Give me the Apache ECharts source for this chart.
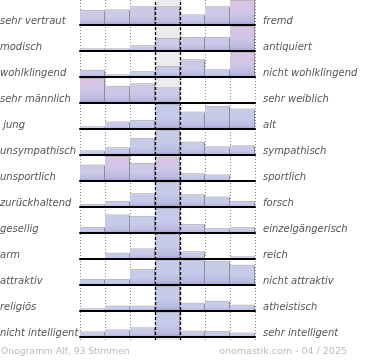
<!DOCTYPE html>
<html>
<head>
<meta charset="utf-8">
<script src="https://cdn.jsdelivr.net/npm/echarts@6/dist/echarts.min.js"></script>
<style>html,body{margin:0;padding:0;background:#fff;}#c{width:370px;height:360px;}</style>
</head>
<body>
<div id="c"></div>
<script>
// ---- data ----
const leftLabels = ['sehr vertraut','modisch','wohlklingend','sehr männlich',' jung','unsympathisch','unsportlich','zurückhaltend','gesellig','arm','attraktiv','religiös','nicht intelligent'];
const rightLabels = ['fremd','antiquiert','nicht wohlklingend','sehr weiblich','alt','sympathisch','sportlich','forsch','einzelgängerisch','reich','nicht attraktiv','atheistisch','sehr intelligent'];
const scale = [1,2,3,4,5,6,7];
const row1 = [58,61,74,74,40,74,100];
const row2 = [7,7,20,50,54,54,100];
const row3 = [25,7,20,42,70,28,100];
const row4 = [100,67,78,61,0,0,0];
const row5 = [7,27,33,100,68,92,81];
const row6 = [15,28,67,100,51,32,36];
const row7 = [64,100,71,97,28,23,0];
const row8 = [8,21,53,100,49,39,21];
const row9 = [21,73,67,100,33,16,20];
const row10 = [0,22,40,100,28,0,7];
const row11 = [21,21,62,100,100,97,80];
const row12 = [7,18,18,100,30,38,22];
const row13 = [19,27,36,100,22,21,14];
const rows = [row1,row2,row3,row4,row5,row6,row7,row8,row9,row10,row11,row12,row13];
const footerLeft = 'Onogramm Alf, 93 Stimmen';
const footerRight = 'onomastik.com - 04 / 2025';

// ---- style (pink tint of bar tops) ----
const tint = [
  [0.3,0.3,0.6,0.6,0,0.5,1],
  [0,0,0,0.2,0.2,0.2,1],
  [0,0,0,0.1,0.4,0,1],
  [1,0.5,0.6,0.3,0,0,0],
  [0,0,0,0,0,0,0],[0,0,0,0,0,0,0],
  [0.4,1,0.5,1,0,0,0],
  [0,0,0,0,0,0,0],[0,0,0,0,0,0,0],[0,0,0,0,0,0,0],
  [0,0,0,0,0,0,0],[0,0,0,0,0,0,0],[0,0,0,0,0,0,0]
];

function mix(a,b,t){
  const pa=[parseInt(a.substr(1,2),16),parseInt(a.substr(3,2),16),parseInt(a.substr(5,2),16)];
  const pb=[parseInt(b.substr(1,2),16),parseInt(b.substr(3,2),16),parseInt(b.substr(5,2),16)];
  return 'rgb('+pa.map((v,i)=>Math.round(v+(pb[i]-v)*t)).join(',')+')';
}

const chart = echarts.init(document.getElementById('c'), null, {renderer:'canvas'});
const L = 80, W = 175, ROWH = 26, BARH = 24, TOP = 1;

const grids = [], xAxes = [], yAxes = [], series = [], graphics = [];
rows.forEach((vals, i) => {
  grids.push({left: L, width: W, top: TOP + ROWH*i, height: BARH});
  xAxes.push({type:'category', gridIndex:i, data: scale, boundaryGap:true,
    axisLine:{show:true, lineStyle:{color:'#000', width:2}}, axisTick:{show:false}, axisLabel:{show:false}, splitLine:{show:false}, z:5});
  yAxes.push({type:'value', gridIndex:i, min:0, max:100, show:false, splitLine:{show:false}});
  series.push({
    type:'custom', xAxisIndex:i, yAxisIndex:i, z:3,
    data: vals.map((v,j)=>[j,v]),
    renderItem: function(params, api){
      const j = api.value(0), v = api.value(1);
      if (!v) return null;
      const top = api.coord([j, v]);
      const base = api.coord([j, 0]);
      const w = api.size([1,0])[0];
      const x0 = top[0] - w/2, x1 = top[0] + w/2;
      const h = base[1] - top[1];
      const t = tint[i][j];
      const topCol = mix('#c6cbe9', '#dcc3e4', t);
      const midCol = mix('#c6cbe9', '#d3c3e5', t*0.6);
      return {type:'group', children:[
        {type:'rect', shape:{x:x0, y:top[1], width:w, height:h},
          style:{fill:new echarts.graphic.LinearGradient(0,0,0,1,[
            {offset:0,color:topCol},{offset:0.5,color:midCol},{offset:0.85,color:'#b9b9e0'},{offset:1,color:'#a49dd0'}])}},
        {type:'line', shape:{x1:x0, y1:top[1]-0.5, x2:x1, y2:top[1]-0.5}, style:{stroke:'#b8b8c4', lineWidth:1}},
        {type:'line', shape:{x1:x1-0.5, y1:top[1], x2:x1-0.5, y2:base[1]}, style:{stroke:'#8e8e8e', lineWidth:1}}
      ]};
    }
  });
  const cy = TOP + ROWH*i + BARH - 6;
  graphics.push({type:'text', left:0, top: cy-3, style:{text:leftLabels[i], fill:'#555', font:'italic 10px "DejaVu Sans"'}});
  graphics.push({type:'text', left:263, top: cy-3, style:{text:rightLabels[i], fill:'#555', font:'italic 10px "DejaVu Sans"'}});
});

// overlay grid for column guides
const oi = rows.length;
grids.push({left:L, width:W, top:0, height: TOP + ROWH*rows.length + 1});
xAxes.push({type:'value', gridIndex:oi, min:0, max:7, interval:1, axisLine:{show:false}, axisTick:{show:false}, axisLabel:{show:false},
  splitLine:{show:true, lineStyle:{color:'#8a8a8a', width:1, type:[1,2]}}, z:0});
yAxes.push({type:'value', gridIndex:oi, min:0, max:1, show:false, splitLine:{show:false}});
series.push({type:'line', xAxisIndex:oi, yAxisIndex:oi, data:[], z:0, silent:true,
  markArea:{silent:true, itemStyle:{color:'#ececec'}, data:[[{xAxis:3},{xAxis:4}]]}});
series.push({type:'line', xAxisIndex:oi, yAxisIndex:oi, data:[], z:10, silent:true,
  markLine:{silent:true, symbol:'none', label:{show:false}, lineStyle:{color:'#000', width:1.3, type:[3,2]},
    data:[{xAxis:3},{xAxis:4}]}});

graphics.push({type:'text', left:1, top:347, style:{text:footerLeft, fill:'#bbb', font:'9.2px "DejaVu Sans"'}});
graphics.push({type:'text', right:23, top:347, style:{text:footerRight, fill:'#bbb', font:'9.5px "DejaVu Sans"'}});

chart.setOption({
  animation:false,
  grid:grids, xAxis:xAxes, yAxis:yAxes, series:series, graphic:graphics
});
</script>
</body>
</html>
